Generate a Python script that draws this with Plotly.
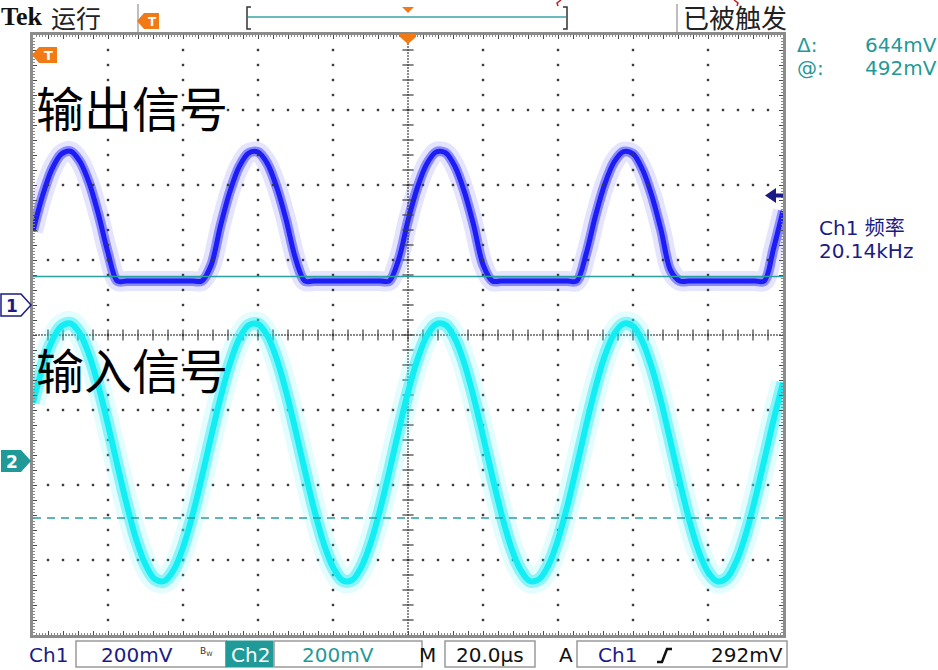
import plotly.graph_objects as go

time_us = [-100.0, -97.5, -95.0, -92.5, -90.0, -87.5, -85.0, -82.5, -80.0, -77.5,
           -75.0, -72.5, -70.0, -67.5, -65.0, -62.5, -60.0, -57.5, -55.0, -52.5,
           -50.0, -47.5, -45.0, -42.5, -40.0, -37.5, -35.0, -32.5, -30.0, -27.5,
           -25.0, -22.5, -20.0, -17.5, -15.0, -12.5, -10.0, -7.5, -5.0, -2.5,
           0.0, 2.5, 5.0, 7.5, 10.0, 12.5, 15.0, 17.5, 20.0, 22.5,
           25.0, 27.5, 30.0, 32.5, 35.0, 37.5, 40.0, 42.5, 45.0, 47.5,
           50.0, 52.5, 55.0, 57.5, 60.0, 62.5, 65.0, 67.5, 70.0, 72.5,
           75.0, 77.5, 80.0, 82.5, 85.0, 87.5, 90.0, 92.5, 95.0, 97.5, 100.0]

# Ch1 : output signal (mV, relative to Ch1 ground)
ch1_output_mV = [197, 290, 361, 402, 410, 383, 325, 240, 139, 64,
                 64, 64, 64, 64, 64, 64, 64, 64, 64, 106,
                 211, 302, 369, 405, 408, 377, 314, 227, 124, 64,
                 64, 64, 64, 64, 64, 64, 64, 64, 64, 121,
                 225, 313, 376, 408, 406, 370, 303, 213, 108, 64,
                 64, 64, 64, 64, 64, 64, 64, 64, 64, 136,
                 238, 323, 382, 409, 403, 362, 292, 199, 93, 64,
                 64, 64, 64, 64, 64, 64, 64, 64, 64, 151,
                 251]

# Ch2 : input signal (mV, relative to Ch2 ground)
ch2_input_mV = [155, 248, 318, 359, 367, 340, 282, 198, 97, -11,
                -116, -208, -276, -315, -320, -291, -231, -146, -44, 65,
                169, 259, 326, 362, 365, 334, 272, 185, 82, -26,
                -130, -219, -283, -318, -318, -284, -220, -132, -29, 80,
                183, 270, 333, 365, 363, 327, 261, 171, 67, -42,
                -144, -230, -290, -320, -315, -277, -210, -119, -14, 95,
                196, 281, 339, 366, 360, 319, 250, 158, 52, -56,
                -157, -240, -296, -321, -312, -269, -198, -104, 2, 110,
                209]

ch1_scale_label = "200mV"
ch2_scale_label = "200mV"
timebase_label = "20.0µs"
trigger_level_mV = 292
trigger_level_label = "292mV"
cursor_at_mV = 492
cursor_delta_mV = 644
cursor_labels = ["644mV", "492mV"]
freq_label = "20.14kHz"

# axis ranges (8 vertical div x 200 mV, 10 horizontal div x 20 us)
X_RANGE = [-100, 100]
Y1_RANGE = [-880, 720]     # Ch1 ground 0.4 div above centre
Y2_RANGE = [-464, 1136]    # Ch2 ground ~1.68 div below centre

# ---------------- geometry helpers (decoration only) ----------------
L, R, T, B = 33, 783, 35, 635
W, H = 938, 670


def px(x):
    return (x - L) / (R - L)


def py(y):
    return (B - y) / (B - T)


def y1px(v):
    return T + (Y1_RANGE[1] - v) / (Y1_RANGE[1] - Y1_RANGE[0]) * (B - T)


def y2px(v):
    return T + (Y2_RANGE[1] - v) / (Y2_RANGE[1] - Y2_RANGE[0]) * (B - T)


shapes = []
annotations = []

FONT = "DejaVu Sans, Noto Sans CJK SC"
CJK = "Noto Sans CJK SC, DejaVu Sans"
TEAL = "#1f9a98"
NAVY = "#1b1b86"
ORANGE = "#f27a14"


def poly(pts, fill, line=None, width=0):
    d = "M " + " L ".join(f"{px(x):.5f},{py(y):.5f}" for x, y in pts) + " Z"
    shapes.append(dict(type="path", xref="paper", yref="paper", path=d,
                       fillcolor=fill, line=dict(color=line or fill, width=width), layer="above"))


def openpath(pts, color, width):
    d = "M " + " L ".join(f"{px(x):.5f},{py(y):.5f}" for x, y in pts)
    shapes.append(dict(type="path", xref="paper", yref="paper", path=d,
                       line=dict(color=color, width=width), layer="above"))


def seg(x0, y0, x1, y1, color, width=1, dash=None):
    shapes.append(dict(type="line", xref="paper", yref="paper",
                       x0=px(x0), y0=py(y0), x1=px(x1), y1=py(y1),
                       line=dict(color=color, width=width, dash=dash), layer="above"))


def rect(x0, y0, x1, y1, fill, line="#9a9a9a", width=1.5):
    shapes.append(dict(type="rect", xref="paper", yref="paper",
                       x0=px(x0), y0=py(y0), x1=px(x1), y1=py(y1),
                       fillcolor=fill, line=dict(color=line, width=width), layer="above"))


def txt(x, y, s, size, color, anchor="left", family=FONT):
    annotations.append(dict(x=px(x), y=py(y), xref="paper", yref="paper", text=s,
                            showarrow=False, xanchor=anchor, yanchor="middle",
                            borderpad=0,
                            font=dict(size=size, color=color, family=family)))


fig = go.Figure()

# ---------------- waveforms ----------------
# Ch2 input (cyan) with glow
for w, c in [(24, "rgba(80,235,245,0.16)"), (13, "rgba(30,235,245,0.45)"), (6, "#12eef4")]:
    fig.add_trace(go.Scatter(x=time_us, y=ch2_input_mV, yaxis="y2", mode="lines",
                             line=dict(color=c, width=w, shape="spline", smoothing=1.0),
                             hoverinfo="skip"))
# Ch1 output (blue) with glow
for w, c in [(20, "rgba(130,130,255,0.22)"), (10, "rgba(50,50,255,0.5)"), (5, "#1c1cf4")]:
    fig.add_trace(go.Scatter(x=time_us, y=ch1_output_mV, yaxis="y", mode="lines",
                             line=dict(color=c, width=w, shape="spline", smoothing=0.9),
                             hoverinfo="skip"))

# ---------------- graticule (dotted) ----------------
gx, gy = [], []
for i in range(1, 10):
    xv = X_RANGE[0] + 20 * i
    if xv == 0:
        continue
    for j in range(1, 40):
        gx.append(xv)
        gy.append(Y1_RANGE[0] + 40 * j)
for i in range(1, 8):
    yv = Y1_RANGE[0] + 200 * i
    if yv == -80:
        continue
    for j in range(1, 50):
        gx.append(X_RANGE[0] + 4 * j)
        gy.append(yv)
fig.add_trace(go.Scatter(x=gx, y=gy, mode="markers", hoverinfo="skip",
                         marker=dict(symbol="square", size=2.4, color="#3c3c3c")))
# centre lines, dense dots
cx = [0] * 201 + [X_RANGE[0] + 0.8 * j for j in range(251)]
cy = [Y1_RANGE[0] + 8 * j for j in range(201)] + [-80] * 251
fig.add_trace(go.Scatter(x=cx, y=cy, mode="markers", hoverinfo="skip",
                         marker=dict(symbol="square", size=1.6, color="#3c3c3c")))
# centre line tick dashes
fig.add_trace(go.Scatter(x=[0] * 39, y=[Y1_RANGE[0] + 40 * j for j in range(1, 40)],
                         mode="markers", hoverinfo="skip",
                         marker=dict(symbol="line-ew", size=8, line=dict(width=1.2, color="#3c3c3c"))))
fig.add_trace(go.Scatter(x=[X_RANGE[0] + 4 * j for j in range(1, 50)], y=[-80] * 49,
                         mode="markers", hoverinfo="skip",
                         marker=dict(symbol="line-ns", size=8, line=dict(width=1.2, color="#3c3c3c"))))

# ---------------- cursors (Ch2) ----------------
shapes.append(dict(type="line", xref="x", yref="y2", x0=X_RANGE[0], x1=X_RANGE[1],
                   y0=cursor_at_mV, y1=cursor_at_mV, line=dict(color="#2aa0a0", width=1.6)))
yb = cursor_at_mV - cursor_delta_mV
shapes.append(dict(type="line", xref="x", yref="y2", x0=X_RANGE[0], x1=X_RANGE[1],
                   y0=yb, y1=yb, line=dict(color="#2aa0a0", width=1.6, dash="8px,6px")))

# ---------------- header ----------------
annotations.append(dict(x=px(0), y=py(17), xref="paper", yref="paper", text="<b>Tek</b>",
                        showarrow=False, xanchor="left", yanchor="middle", borderpad=0,
                        font=dict(size=26, color="#111", family="Liberation Serif, DejaVu Serif")))
txt(50, 17, "运行", 25, "#222", family=CJK)
seg(138, 4, 138, 32, "#a8a8a8", 1.5)
seg(677, 4, 677, 32, "#a8a8a8", 1.5)
txt(682, 17, "已被触发", 26, "#222", family=CJK)
# trigger position marker (header)
poly([(137, 21), (144, 13), (159, 13), (159, 29), (144, 29)], ORANGE)
txt(152, 21.5, "<b>T</b>", 12, "white", anchor="center")
# record view bracket
openpath([(251, 7), (247, 7), (247, 29), (251, 29)], "#333", 1.5)
openpath([(563, 7), (567, 7), (567, 29), (563, 29)], "#333", 1.5)
seg(248, 17, 566, 17, "#3aa5a5", 1.6)
poly([(402, 7), (414, 7), (408, 13)], ORANGE)
openpath([(561, 0), (557, 3), (558, 6)], "#c02020", 1.5)
openpath([(734, 0), (738, 3), (737, 6)], "#c02020", 1.5)

# trigger position marker on graticule (time 0)
poly([(400, 34), (416, 34), (416, 37), (408, 44), (400, 37)], ORANGE)
# trigger "T" in plot
poly([(32, 55), (39, 47), (57, 47), (57, 63), (39, 63)], ORANGE)
txt(48.5, 55.5, "<b>T</b>", 13, "white", anchor="center")

# channel ground markers
g1 = y1px(0)
poly([(1, g1 - 11), (21, g1 - 11), (31, g1), (21, g1 + 11), (1, g1 + 11)], "white", NAVY, 1.5)
txt(12, g1 + 0.5, "<b>1</b>", 17, NAVY, anchor="center")
g2 = y2px(0)
poly([(1, g2 - 11), (21, g2 - 11), (31, g2), (21, g2 + 11), (1, g2 + 11)], TEAL)
txt(12, g2 + 0.5, "<b>2</b>", 17, "white", anchor="center")

# trigger level arrow (right)
tl = y1px(trigger_level_mV)
poly([(765, tl), (776, tl - 7.5), (776, tl - 2), (783, tl - 2), (783, tl + 2),
      (776, tl + 2), (776, tl + 7.5)], NAVY)

# right readouts
txt(796, 45, "Δ:", 20, TEAL)
txt(938, 45, cursor_labels[0], 20, TEAL, anchor="right")
txt(796, 68, "@:", 20, TEAL)
txt(938, 68, cursor_labels[1], 20, TEAL, anchor="right")
txt(818, 228, "Ch1 频率", 20, NAVY)
txt(818, 251, freq_label, 20, NAVY)

# big labels
txt(35, 106, "输出信号", 48, "#000", family=CJK)
txt(35, 368, "输入信号", 48, "#000", family=CJK)

# ---------------- bottom status bar ----------------
rect(76, 641, 226, 667, "white")
rect(226, 641, 273, 667, TEAL, TEAL, 1)
rect(274, 641, 422, 667, "white")
rect(445, 641, 535, 667, "white")
rect(577, 641, 787, 667, "white")
txt(28, 655, "Ch1", 20, NAVY)
txt(137, 655, ch1_scale_label, 20, NAVY, anchor="center")
txt(206, 651, "B<sub>W</sub>", 9, "#333", anchor="center")
txt(250, 655, "Ch2", 20, "white", anchor="center")
txt(338, 655, ch2_scale_label, 20, TEAL, anchor="center")
txt(428, 655, "M", 20, "#111", anchor="center")
txt(490, 655, timebase_label, 20, "#111", anchor="center")
txt(566, 655, "A", 20, "#111", anchor="center")
txt(617, 655, "Ch1", 20, NAVY, anchor="center")
openpath([(657, 662), (662, 662), (667, 649), (672, 649)], "#111", 2.5)
txt(784, 655, trigger_level_label, 20, "#111", anchor="right")

# ---------------- layout ----------------
axis_common = dict(showgrid=False, zeroline=False, showticklabels=False,
                   showline=True, linecolor="#8c8c8c", linewidth=3, mirror="ticks",
                   ticks="inside", tickcolor="#4a4a4a", tickwidth=1, ticklen=4,
                   fixedrange=True)
fig.update_layout(
    width=W, height=H,
    margin=dict(l=L, r=W - R, t=T, b=H - B, pad=0),
    paper_bgcolor="white", plot_bgcolor="white",
    showlegend=False,
    xaxis=dict(range=X_RANGE, tick0=0, dtick=4,
               minor=dict(ticks="inside", dtick=0.8, ticklen=2, tickcolor="#888"),
               **axis_common),
    yaxis=dict(range=Y1_RANGE, tick0=0, dtick=40,
               minor=dict(ticks="inside", dtick=8, ticklen=2, tickcolor="#888"),
               **axis_common),
    yaxis2=dict(range=Y2_RANGE, overlaying="y", visible=False, fixedrange=True),
    shapes=shapes,
    annotations=annotations,
)

fig.write_html("out.html", config={"displayModeBar": False},
               post_script="document.body.style.margin='0';document.body.style.overflow='hidden';")
